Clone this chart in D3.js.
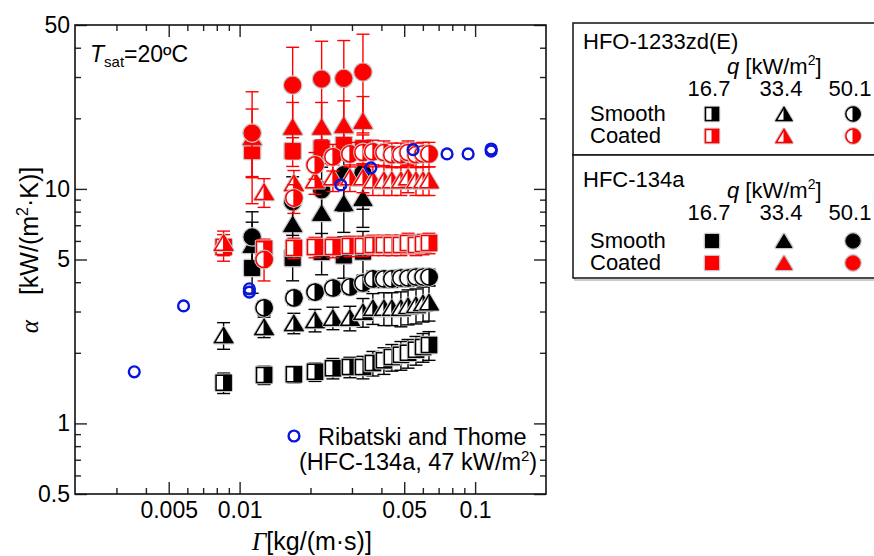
<!doctype html>
<html lang="en">
<head>
<meta charset="utf-8">
<title>alpha vs Gamma</title>
<script src="https://cdnjs.cloudflare.com/ajax/libs/d3/7.8.5/d3.min.js"></script>
<style>
  html, body { margin: 0; padding: 0; background: #fff; }
  svg { display: block; font-family: "Liberation Sans", Arial, sans-serif; }
</style>
</head>
<body>
<svg id="chart" width="874" height="556"></svg>
<script>
// ---- data ----
const xTickLabels = [0.005, 0.01, 0.05, 0.1];
const yTickLabels = [0.5, 1, 5, 10, 50];

// HFO-1233zd(E) film flow rates, kg/(m s)
const gammaHFO = [0.00855, 0.0127, 0.0170, 0.0209, 0.0249, 0.0294, 0.0334, 0.0368, 0.0410, 0.0443, 0.0484, 0.0519, 0.0561, 0.0601, 0.0637];
const gammaHFOCircle = [0.0127, 0.0170, 0.0209, 0.0249, 0.0294, 0.0334, 0.0368, 0.0410, 0.0443, 0.0484, 0.0519, 0.0561, 0.0601, 0.0637];
// HFC-134a film flow rates
const gammaHFC = [0.0113, 0.0168, 0.0223, 0.0277, 0.0334];

// HFO smooth
const hfoSmooth167 = [1.49, 1.61, 1.62, 1.66, 1.72, 1.74, 1.74, 1.81, 1.86, 1.92, 1.96, 2.00, 2.06, 2.12, 2.16];
const hfoSmooth167Err = [0.10, 0.09, 0.08, 0.09, 0.10, 0.10, 0.11, 0.12, 0.13, 0.13, 0.14, 0.14, 0.14, 0.14, 0.14];
const hfoSmooth334 = [2.38, 2.58, 2.68, 2.76, 2.82, 2.82, 2.99, 3.11, 3.11, 3.11, 3.11, 3.17, 3.20, 3.26, 3.29];
const hfoSmooth334Err = [0.13, 0.10, 0.10, 0.11, 0.11, 0.12, 0.14, 0.15, 0.16, 0.16, 0.17, 0.17, 0.17, 0.17, 0.17];
const hfoSmooth501 = [3.11, 3.43, 3.63, 3.78, 3.82, 3.97, 4.13, 4.13, 4.13, 4.17, 4.17, 4.21, 4.21, 4.21];
const hfoSmooth501Err = [0.07, 0.07, 0.07, 0.07, 0.07, 0.08, 0.08, 0.08, 0.08, 0.08, 0.08, 0.08, 0.08, 0.08];

// HFO coated
const hfoCoated167 = [5.65, 5.55, 5.60, 5.65, 5.65, 5.71, 5.71, 5.77, 5.77, 5.77, 5.77, 5.88, 5.77, 5.82, 5.88];
const hfoCoated167Err = [0.13, 0.10, 0.10, 0.10, 0.10, 0.10, 0.10, 0.10, 0.10, 0.10, 0.10, 0.10, 0.10, 0.10, 0.10];
const hfoCoated334 = [5.9, 9.70, 10.6, 10.9, 11.2, 11.2, 11.2, 10.9, 10.9, 10.9, 10.9, 11.2, 10.9, 10.9, 10.9];
const hfoCoated334Err = [0.12, 0.14, 0.13, 0.13, 0.13, 0.13, 0.14, 0.14, 0.14, 0.14, 0.14, 0.14, 0.14, 0.14, 0.14];
const hfoCoated501 = [5.0, 9.14, 12.65, 13.7, 14.1, 14.3, 14.4, 14.3, 14.0, 14.0, 14.3, 14.0, 14.1, 14.1];
const hfoCoated501Err = [0.19, 0.14, 0.13, 0.13, 0.12, 0.12, 0.12, 0.12, 0.12, 0.12, 0.12, 0.12, 0.12, 0.12];

// HFC smooth
const hfcSmooth167 = [4.60, 5.07, 5.38, 5.20, 5.40];
const hfcSmooth167Err = [0.22, 0.20, 0.20, 0.20, 0.22];
const hfcSmooth334 = [5.77, 7.08, 7.9, 8.7, 9.14];
const hfcSmooth334Err = [0.25, 0.25, 0.25, 0.25, 0.25];
const hfcSmooth501 = [6.24, 8.8, 9.9, 11.5, 11.7];
const hfcSmooth501Err = [0.28, 0.28, 0.25, 0.30, 0.30];

// HFC coated
const hfcCoated167 = [14.5, 14.5, 14.9, 15.4, 14.9];
const hfcCoated167Err = [0.23, 0.14, 0.14, 0.14, 0.14];
const hfcCoated334 = [16.6, 18.4, 18.4, 18.7, 19.5];
const hfcCoated334Err = [0.32, 0.27, 0.27, 0.27, 0.27];
const hfcCoated501 = [17.3, 27.7, 29.4, 29.6, 31.5];
const hfcCoated501Err = [0.50, 0.45, 0.45, 0.45, 0.45];

// Ribatski and Thome (HFC-134a, 47 kW/m2)
const gammaRT = [0.00357, 0.00578, 0.0110, 0.0110, 0.0269, 0.0361, 0.0545, 0.076, 0.0934, 0.117, 0.117];
const alphaRT = [1.66, 3.17, 3.63, 3.75, 10.4, 12.3, 14.7, 14.1, 14.1, 14.5, 14.8];

// ---- chart ----
const BLACK = "#000", RED = "#ff0000", BLUE = "#0a14dc";
const svg = d3.select("#chart");
const plot = {left: 75, right: 546, top: 25, bottom: 494};

const x = d3.scaleLog().domain([0.002, 0.2]).range([plot.left, plot.right]);
const y = d3.scaleLog().domain([0.5, 50]).range([plot.bottom, plot.top]);

const isMajor = v => {
  const m = Math.round(v / Math.pow(10, Math.floor(Math.log10(v) + 1e-9)));
  return m === 1 || m === 5;
};
const xAll = x.ticks().filter(v => v > 0.0021 && v < 0.199);
const yAll = y.ticks().filter(v => v > 0.51 && v < 49);
const fmt = d3.format("~g");

function axisSet(axisFn, scale, t, pad, labels, showLabels) {
  const all = scale === x ? xAll : yAll;
  const minor = axisFn(scale).tickValues(all.filter(v => !isMajor(v))).tickSize(-6).tickFormat("");
  const major = axisFn(scale).tickValues(labels).tickSize(-12).tickPadding(pad)
    .tickFormat(showLabels ? fmt : "");
  [minor, major].forEach(a => {
    const g = svg.append("g").attr("transform", t).call(a);
    g.select(".domain").remove();
    g.selectAll("line").attr("stroke", "#222").attr("stroke-width", 1.4);
    g.selectAll("text").attr("font-size", 23).attr("fill", "#000")
      .attr("font-family", "'Liberation Sans', Arial, sans-serif");
  });
}
axisSet(d3.axisBottom, x, `translate(0,${plot.bottom})`, 8, xTickLabels, true);
axisSet(d3.axisTop, x, `translate(0,${plot.top})`, 8, xTickLabels, false);
axisSet(d3.axisLeft, y, `translate(${plot.left},0)`, 5, yTickLabels, true);
axisSet(d3.axisRight, y, `translate(${plot.right},0)`, 5, yTickLabels, false);

svg.append("rect")
  .attr("x", plot.left).attr("y", plot.top)
  .attr("width", plot.right - plot.left).attr("height", plot.bottom - plot.top)
  .attr("fill", "none").attr("stroke", "#111").attr("stroke-width", 1.6);

// marker drawing
function marker(g, shape, cx, cy, color, half, s) {
  const h = s / 2;
  let outline, right;
  if (shape === "square") {
    outline = `M${cx - h},${cy - h}H${cx + h}V${cy + h}H${cx - h}Z`;
    right = `M${cx},${cy - h}H${cx + h}V${cy + h}H${cx}Z`;
  } else if (shape === "triangle") {
    const w = s * 0.6;
    outline = `M${cx},${cy - h}L${cx + w},${cy + h}L${cx - w},${cy + h}Z`;
    right = `M${cx},${cy - h}L${cx + w},${cy + h}L${cx},${cy + h}Z`;
  } else {
    const r = h + 0.6;
    outline = `M${cx},${cy - r}A${r},${r} 0 1 1 ${cx},${cy + r}A${r},${r} 0 1 1 ${cx},${cy - r}Z`;
    right = `M${cx},${cy - r}A${r},${r} 0 0 1 ${cx},${cy + r}Z`;
  }
  g.append("path").attr("d", outline).attr("fill", "none")
    .attr("stroke", "#c6c6c6").attr("stroke-width", 3.6).attr("stroke-linejoin", "round");
  if (half) {
    g.append("path").attr("d", outline).attr("fill", "#fff")
      .attr("stroke", color).attr("stroke-width", 1.5);
    g.append("path").attr("d", right).attr("fill", color)
      .attr("stroke", color).attr("stroke-width", 1);
  } else {
    g.append("path").attr("d", outline).attr("fill", color)
      .attr("stroke", color).attr("stroke-width", 1);
  }
}

function series(gx, vals, errs, shape, color, half) {
  const g = svg.append("g");
  const eb = g.append("g").attr("stroke", color).attr("stroke-width", 1.4);
  vals.forEach((v, i) => {
    const e = errs[i];
    const px = x(gx[i]);
    const y0 = y(v * (1 - e)), y1 = y(v * (1 + e));
    eb.append("line").attr("x1", px).attr("x2", px).attr("y1", y0).attr("y2", y1);
    eb.append("line").attr("x1", px - 6.5).attr("x2", px + 6.5).attr("y1", y0).attr("y2", y0);
    eb.append("line").attr("x1", px - 6.5).attr("x2", px + 6.5).attr("y1", y1).attr("y2", y1);
  });
  const mk = g.append("g");
  vals.forEach((v, i) => marker(mk, shape, x(gx[i]), y(v), color, half, 15));
}

series(gammaHFC, hfcSmooth167, hfcSmooth167Err, "square", BLACK, false);
series(gammaHFC, hfcSmooth334, hfcSmooth334Err, "triangle", BLACK, false);
series(gammaHFC, hfcSmooth501, hfcSmooth501Err, "circle", BLACK, false);
series(gammaHFO, hfoSmooth167, hfoSmooth167Err, "square", BLACK, true);
series(gammaHFO, hfoSmooth334, hfoSmooth334Err, "triangle", BLACK, true);
series(gammaHFOCircle, hfoSmooth501, hfoSmooth501Err, "circle", BLACK, true);
series(gammaHFC, hfcCoated167, hfcCoated167Err, "square", RED, false);
series(gammaHFC, hfcCoated334, hfcCoated334Err, "triangle", RED, false);
series(gammaHFC, hfcCoated501, hfcCoated501Err, "circle", RED, false);
series(gammaHFO, hfoCoated167, hfoCoated167Err, "square", RED, true);
series(gammaHFO, hfoCoated334, hfoCoated334Err, "triangle", RED, true);
series(gammaHFOCircle, hfoCoated501, hfoCoated501Err, "circle", RED, true);

// Ribatski and Thome open circles
svg.append("g").selectAll("circle").data(alphaRT).join("circle")
  .attr("cx", (d, i) => x(gammaRT[i])).attr("cy", d => y(d)).attr("r", 5.4)
  .attr("fill", "none").attr("stroke", BLUE).attr("stroke-width", 2.4);

// ---- texts ----
const serif = "'Liberation Serif', 'Times New Roman', serif";

const tsat = svg.append("text").attr("x", 90).attr("y", 62).attr("font-size", 23);
tsat.append("tspan").attr("font-style", "italic").text("T");
tsat.append("tspan").attr("font-size", 15).attr("dy", 5).text("sat");
tsat.append("tspan").attr("dy", -5).text("=20ºC");

const yl = svg.append("text").attr("transform", "translate(38,250) rotate(-90)")
  .attr("text-anchor", "middle").attr("font-size", 25);
yl.append("tspan").attr("font-family", serif).attr("font-style", "italic").text("α");
yl.append("tspan").text("\u2002\u2002[kW/(m");
yl.append("tspan").attr("font-size", 16).attr("dy", -10).text("2");
yl.append("tspan").attr("dy", 10).text("·K)]");

const xl = svg.append("text").attr("x", 312).attr("y", 550)
  .attr("text-anchor", "middle").attr("font-size", 25);
xl.append("tspan").attr("font-family", serif).attr("font-style", "italic").text("Γ");
xl.append("tspan").text("[kg/(m·s)]");

// Ribatski legend inside plot
svg.append("circle").attr("cx", 294).attr("cy", 436).attr("r", 5.4)
  .attr("fill", "none").attr("stroke", BLUE).attr("stroke-width", 2.4);
svg.append("text").attr("x", 318).attr("y", 445).attr("font-size", 23.5).text("Ribatski and Thome");
const rt2 = svg.append("text").attr("x", 299).attr("y", 470).attr("font-size", 23.5);
rt2.append("tspan").text("(HFC-134a, 47 kW/m");
rt2.append("tspan").attr("font-size", 15).attr("dy", -9).text("2");
rt2.append("tspan").attr("dy", 9).text(")");

// ---- right legend ----
const sections = [
  {title: "HFO-1233zd(E)", top: 23, h: 132, half: true, titleY: 49, qY: 74, numY: 96, sY: 121, cY: 143, mS: 114, mC: 136},
  {title: "HFC-134a", top: 155, h: 123, half: false, titleY: 187, qY: 198, numY: 220, sY: 248, cY: 270, mS: 241, mC: 263}
];
const legQ = ["16.7", "33.4", "50.1"];
const legShapes = ["square", "triangle", "circle"];
const legX = [709, 781, 850];

const leg = svg.append("g");
sections.forEach(sec => {
  leg.append("rect").attr("x", 575).attr("y", sec.top + 2).attr("width", 320).attr("height", sec.h)
    .attr("fill", "none").attr("stroke", "#bbb").attr("stroke-width", 1.5);
  leg.append("rect").attr("x", 573).attr("y", sec.top).attr("width", 320).attr("height", sec.h)
    .attr("fill", "#fff").attr("stroke", "#111").attr("stroke-width", 1.5);
  leg.append("text").attr("x", 583).attr("y", sec.titleY).attr("font-size", 22).text(sec.title);
  const q = leg.append("text").attr("x", 727).attr("y", sec.qY).attr("font-size", 22);
  q.append("tspan").attr("font-style", "italic").text("q");
  q.append("tspan").text(" [kW/m");
  q.append("tspan").attr("font-size", 14).attr("dy", -9).text("2");
  q.append("tspan").attr("dy", 9).text("]");
  legQ.forEach((t, i) => {
    leg.append("text").attr("x", legX[i]).attr("y", sec.numY).attr("text-anchor", "middle")
      .attr("font-size", 22).text(t);
  });
  leg.append("text").attr("x", 590).attr("y", sec.sY).attr("font-size", 22).text("Smooth");
  leg.append("text").attr("x", 590).attr("y", sec.cY).attr("font-size", 22).text("Coated");
  legShapes.forEach((s, i) => {
    marker(leg, s, legX[i] + 3, sec.mS, BLACK, sec.half, 13);
    marker(leg, s, legX[i] + 3, sec.mC, RED, sec.half, 13);
  });
});
</script>
</body>
</html>
